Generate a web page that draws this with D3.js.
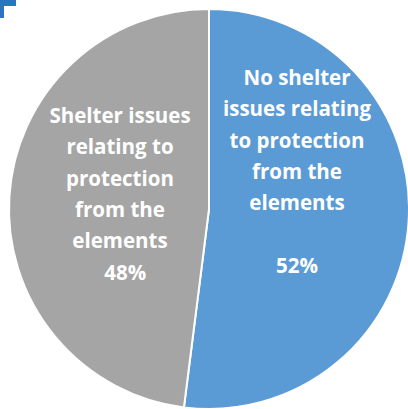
<!DOCTYPE html>
<html>
<head>
<meta charset="utf-8">
<script src="https://cdn.jsdelivr.net/npm/d3@7"></script>
<style>
  html, body { margin: 0; padding: 0; background: #ffffff; }
  svg { display: block; }
</style>
</head>
<body>
<svg id="chart" width="408" height="409"></svg>
<script>
const categories = ["No shelter issues relating to protection from the elements",
                    "Shelter issues relating to protection from the elements"];
const values = [52, 48];
const labelLines = [
  ["No shelter", "issues relating", "to protection", "from the", "elements", "", "52%"],
  ["Shelter issues", "relating to", "protection", "from the", "elements", "\u00a0\u00a048%"]
];
const colors = ["#5B9BD5", "#A5A5A5"];

const svg = d3.select("#chart");
const cx = 209, cy = 209, r = 200;

// corner fragment in top-left
svg.append("path")
  .attr("d", "M0,0 H16 V6 H4 V18 H0 Z")
  .attr("fill", "#2b74c2");

const g = svg.append("g").attr("transform", `translate(${cx},${cy})`);

const pie = d3.pie().sort(null).value(d => d)(values);
const arc = d3.arc().innerRadius(0).outerRadius(r);

g.selectAll("path.slice")
  .data(pie)
  .join("path")
  .attr("class", "slice")
  .attr("d", arc)
  .attr("fill", (d, i) => colors[i])
  .attr("stroke", "#ffffff")
  .attr("stroke-width", 2);

const labelPos = [[88, -124], [-89, -86]];
const lineH = 31.3;
pie.forEach((d, i) => {
  const t = g.append("text")
    .attr("text-anchor", "middle")
    .attr("fill", "#ffffff")
    .attr("font-family", "'Open Sans', sans-serif")
    .attr("font-weight", "bold")
    .attr("font-size", 20.5)
    .attr("xml:space", "preserve");
  labelLines[i].forEach((line, j) => {
    t.append("tspan")
      .attr("x", labelPos[i][0])
      .attr("y", labelPos[i][1] + j * lineH)
      .text(line);
  });
});
</script>
</body>
</html>
